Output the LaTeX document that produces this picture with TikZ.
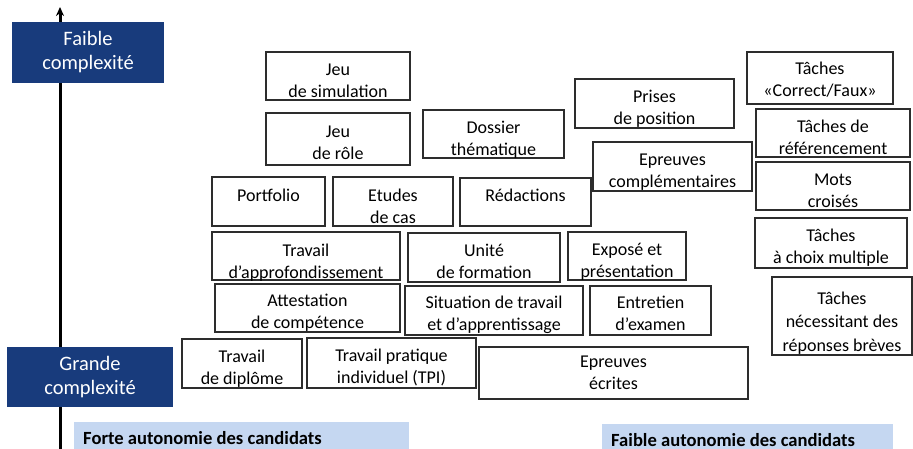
\documentclass[tikz,border=0pt]{standalone}
\usepackage{fontspec}
\setmainfont{Carlito}
\usetikzlibrary{arrows.meta}
\definecolor{darkblue}{RGB}{24,59,124}
\definecolor{lightblue}{RGB}{197,215,241}
\definecolor{boxline}{RGB}{45,45,45}
\newcommand\mybox[7]{%
  \node[box, minimum width={#4-#2}, minimum height={#5-#3}] (#1) at ({(#2+#4)/2},{(#3+#5)/2}) {};
  \node[txt, anchor=north] (#1t) at ({(#2+#4)/2},{#3+#6-15.4}) {\strut #7};
}
\begin{document}
\begin{tikzpicture}[x=1pt,y=-1pt,
  box/.style={draw=boxline, line width=1.1pt, fill=white, inner sep=0pt, outer sep=0pt},
  txt/.style={inner sep=0pt, align=center, font=\fontsize{18}{22}\selectfont},
  level/.style={fill=darkblue, text=white, inner sep=0pt, align=center, font=\fontsize{20.5}{24}\selectfont},
  autonomy/.style={fill=lightblue, inner sep=0pt},
  autotext/.style={inner sep=0pt, font=\fontsize{18.6}{22}\selectfont\bfseries, anchor=base west},
  axis/.style={line width=3pt, -{Stealth[length=9pt,width=8pt]}}]
\useasboundingbox (0,0) rectangle (913,449);
\fill[white] (0,0) rectangle (913,449);
% axis
\coordinate (axisbot) at (60,449);
\coordinate (axistop) at (60,7);
\draw[axis] (axisbot) -- (axistop);
% complexity labels
\node[level, minimum width=152, minimum height=61] (faible) at (88,52.5) {Faible\\complexité};
\node[level, minimum width=166, minimum height=60] (grande) at (90,377) {Grande\\complexité};
% autonomy bands
\node[autonomy, minimum width=335, minimum height=28, anchor=north west] (forte) at (74,422) {};
\node[autotext] (fortet) at (83,444) {Forte autonomie des candidats};
\node[autonomy, minimum width=291, minimum height=26, anchor=north west] (faibleaut) at (602,424) {};
\node[autotext] (faibleautt) at (611,446) {Faible autonomie des candidats};
% boxes
\mybox{sim}{266}{52}{410}{100}{23}{Jeu\\de simulation}
\mybox{role}{266}{113}{410}{165}{24}{Jeu\\de rôle}
\mybox{dossier}{423}{110}{564}{158}{23}{Dossier\\thématique}
\mybox{prises}{575}{79}{734}{128}{23}{Prises\\de position}
\mybox{compl}{593}{142}{752}{191}{23}{Epreuves\\complémentaires}
\mybox{cf}{747}{52}{893}{104}{22}{Tâches\\«Correct/Faux»}
\mybox{ref}{756}{109}{910}{157}{23}{Tâches de\\référencement}
\mybox{mots}{756}{162}{910}{210}{23}{Mots\\croisés}
\mybox{qcm}{755}{218}{907}{268}{23}{Tâches\\à choix multiple}
\mybox{breves}{772}{277}{912}{355}{27}{Tâches\\[1.5pt]nécessitant des\\[1.5pt]réponses brèves}
\mybox{portfolio}{212}{177}{325}{226}{24}{Portfolio}
\mybox{etudes}{333}{177}{453}{226}{24}{Etudes\\de cas}
\mybox{redac}{460}{178}{591}{226}{23}{Rédactions}
\mybox{approf}{212}{232}{400}{280}{24}{Travail\\d’approfondissement}
\mybox{unite}{408}{233}{560}{282}{23}{Unité\\de formation}
\mybox{expose}{568}{232}{686}{280}{23}{Exposé et\\présentation}
\mybox{attest}{215}{284}{400}{332}{22}{Attestation\\de compétence}
\mybox{situation}{405}{286}{583}{335}{22}{Situation de travail\\et d’apprentissage}
\mybox{entretien}{590}{286}{711}{335}{22}{Entretien\\d’examen}
\mybox{diplome}{182}{339}{302}{388}{23}{Travail\\de diplôme}
\mybox{tpi}{307}{338}{476}{388}{23}{Travail pratique\\individuel (TPI)}
\mybox{ecrites}{479}{347}{748}{399}{20}{Epreuves\\écrites}
\end{tikzpicture}
\end{document}
